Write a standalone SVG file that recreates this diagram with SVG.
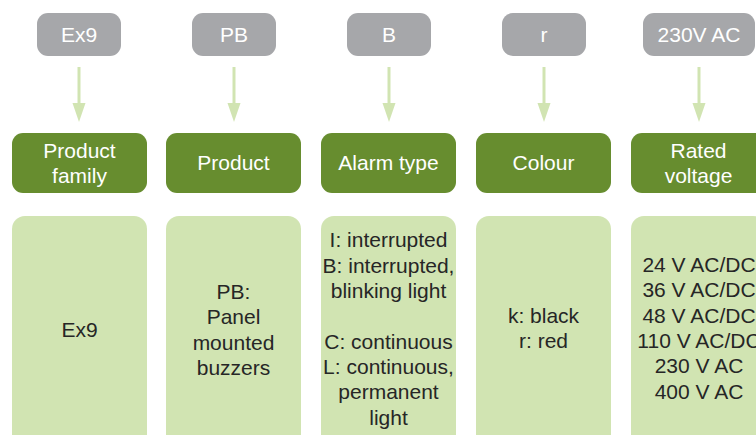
<svg xmlns="http://www.w3.org/2000/svg" width="756" height="435" viewBox="0 0 756 435">
<defs>
<style>
.code{fill:#a6a7aa}
.cat{fill:#678d2f}
.val{fill:#d1e4b2}
text{font-family:"Liberation Sans",Arial,sans-serif;font-size:21px;text-anchor:middle}
.w{fill:#ffffff}
.d{fill:#262626}
.conn line{stroke:#d1e4b2;stroke-width:3}
.conn path{fill:#d1e4b2}
</style>
</defs>
<rect width="756" height="435" fill="#ffffff"/>
<g id="connectors" class="conn">
<line x1="79" y1="67" x2="79" y2="104"/>
<path d="M72.5,103 L85.5,103 L79,122 Z"/>
<line x1="234" y1="67" x2="234" y2="104"/>
<path d="M227.5,103 L240.5,103 L234,122 Z"/>
<line x1="389" y1="67" x2="389" y2="104"/>
<path d="M382.5,103 L395.5,103 L389,122 Z"/>
<line x1="544" y1="67" x2="544" y2="104"/>
<path d="M537.5,103 L550.5,103 L544,122 Z"/>
<line x1="699" y1="67" x2="699" y2="104"/>
<path d="M692.5,103 L705.5,103 L699,122 Z"/>
</g>
<g id="code-ex9"><rect class="code" x="37" y="13" width="84" height="43" rx="11"/><text class="w" x="79" y="42">Ex9</text></g>
<g id="code-pb"><rect class="code" x="192" y="13" width="84" height="43" rx="11"/><text class="w" x="234" y="42">PB</text></g>
<g id="code-b"><rect class="code" x="347" y="13" width="84" height="43" rx="11"/><text class="w" x="389" y="42">B</text></g>
<g id="code-r"><rect class="code" x="502" y="13" width="84" height="43" rx="11"/><text class="w" x="544" y="42">r</text></g>
<g id="code-230"><rect class="code" x="643" y="13" width="112" height="43" rx="11"/><text class="w" x="699" y="42">230V AC</text></g>

<g id="cat-family"><rect class="cat" x="12" y="133" width="135" height="60" rx="11"/><text class="w" x="79.5" y="158">Product</text><text class="w" x="79.5" y="183">family</text></g>
<g id="cat-product"><rect class="cat" x="166" y="133" width="135" height="60" rx="11"/><text class="w" x="233.5" y="170">Product</text></g>
<g id="cat-alarm"><rect class="cat" x="321" y="133" width="135" height="60" rx="11"/><text class="w" x="388.5" y="170">Alarm type</text></g>
<g id="cat-colour"><rect class="cat" x="476" y="133" width="135" height="60" rx="11"/><text class="w" x="543.5" y="170">Colour</text></g>
<g id="cat-voltage"><rect class="cat" x="631" y="133" width="135" height="60" rx="11"/><text class="w" x="698.5" y="158">Rated</text><text class="w" x="698.5" y="183">voltage</text></g>

<g id="val-family"><rect class="val" x="12" y="216" width="135" height="240" rx="13"/><text class="d" x="79.5" y="337">Ex9</text></g>
<g id="val-product"><rect class="val" x="166" y="216" width="135" height="240" rx="13"/>
<text class="d" x="233.5" y="299">PB:</text><text class="d" x="233.5" y="324">Panel</text><text class="d" x="233.5" y="350">mounted</text><text class="d" x="233.5" y="375">buzzers</text></g>
<g id="val-alarm"><rect class="val" x="321" y="216" width="135" height="240" rx="13"/>
<text class="d" x="388.5" y="247">I: interrupted</text>
<text class="d" x="388.5" y="273">B: interrupted,</text>
<text class="d" x="388.5" y="298">blinking light</text>
<text class="d" x="388.5" y="349">C: continuous</text>
<text class="d" x="388.5" y="374">L: continuous,</text>
<text class="d" x="388.5" y="399">permanent</text>
<text class="d" x="388.5" y="425">light</text></g>
<g id="val-colour"><rect class="val" x="476" y="216" width="135" height="240" rx="13"/>
<text class="d" x="543.5" y="323">k: black</text><text class="d" x="543.5" y="348">r: red</text></g>
<g id="val-voltage"><rect class="val" x="631" y="216" width="135" height="240" rx="13"/>
<text class="d" x="699" y="272">24 V AC/DC</text>
<text class="d" x="699" y="297">36 V AC/DC</text>
<text class="d" x="699" y="323">48 V AC/DC</text>
<text class="d" x="699" y="348">110 V AC/DC</text>
<text class="d" x="699" y="373">230 V AC</text>
<text class="d" x="699" y="399">400 V AC</text></g>
</svg>
